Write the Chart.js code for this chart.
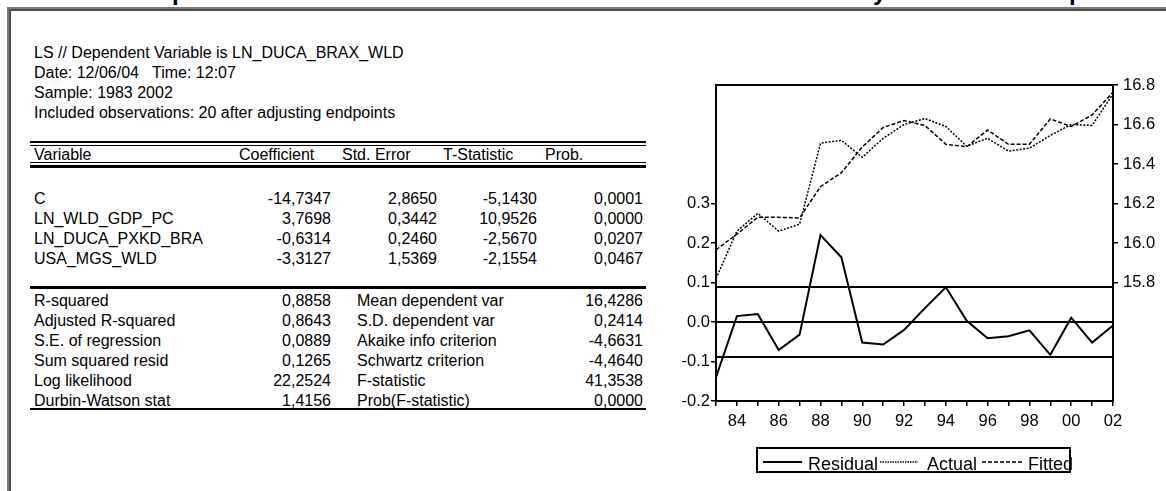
<!DOCTYPE html>
<html>
<head>
<meta charset="utf-8">
<script src="https://cdn.jsdelivr.net/npm/chart.js@4.4.0/dist/chart.umd.min.js"></script>
<style>
  html, body { margin: 0; padding: 0; background: #fff; }
  body { width: 1166px; height: 491px; position: relative; overflow: hidden;
         font-family: "Liberation Sans", Arial, sans-serif; color: #000; }
  #frame { position: absolute; left: 7px; top: 7px; right: -20px; bottom: -20px;
           border-top: 2px solid #7a7a7a; border-left: 2px solid #7a7a7a; }
  #frame::after { content: ''; position: absolute; left: 0; top: 0; right: 0; bottom: 0;
                  border-top: 2px solid #4e4e4e; border-left: 2px solid #4e4e4e; }
  #title { position: absolute; left: 0; top: 0; width: 1166px; height: 5px; overflow: hidden; }
  #title span { position: absolute; top: -20px; font: bold 24px/24px "Liberation Sans", Arial, sans-serif; }
  .t { position: absolute; font-size: 16px; line-height: 16px; white-space: pre; }
  .r { transform: translateX(-100%); }
  .rule { position: absolute; left: 30px; width: 616px; background: #000; }
  #wrap { position: absolute; left: 640px; top: 60px; width: 526px; height: 431px; }
</style>
</head>
<body>
<div id="frame"></div>
<div id="title"><span style="left:172px">p</span><span style="left:873px">y</span><span style="left:1069px">p</span></div>
<div id="table"></div>
<div id="wrap"><canvas id="residChart" width="526" height="431"></canvas></div>

<script>
// regression output
const headerLines = [
  'LS // Dependent Variable is LN_DUCA_BRAX_WLD',
  'Date: 12/06/04   Time: 12:07',
  'Sample: 1983 2002',
  'Included observations: 20 after adjusting endpoints'
];
const columnNames = ['Variable', 'Coefficient', 'Std. Error', 'T-Statistic', 'Prob.'];
const variables = ['C', 'LN_WLD_GDP_PC', 'LN_DUCA_PXKD_BRA', 'USA_MGS_WLD'];
const coefficients = ['-14,7347', '3,7698', '-0,6314', '-3,3127'];
const stdErrors = ['2,8650', '0,3442', '0,2460', '1,5369'];
const tStats = ['-5,1430', '10,9526', '-2,5670', '-2,1554'];
const probs = ['0,0001', '0,0000', '0,0207', '0,0467'];
const statNamesLeft = ['R-squared', 'Adjusted R-squared', 'S.E. of regression', 'Sum squared resid', 'Log likelihood', 'Durbin-Watson stat'];
const statValuesLeft = ['0,8858', '0,8643', '0,0889', '0,1265', '22,2524', '1,4156'];
const statNamesRight = ['Mean dependent var', 'S.D. dependent var', 'Akaike info criterion', 'Schwartz criterion', 'F-statistic', 'Prob(F-statistic)'];
const statValuesRight = ['16,4286', '0,2414', '-4,6631', '-4,4640', '41,3538', '0,0000'];

// residual / actual / fitted series
const years = [1983, 1984, 1985, 1986, 1987, 1988, 1989, 1990, 1991, 1992,
               1993, 1994, 1995, 1996, 1997, 1998, 1999, 2000, 2001, 2002];
const residual = [-0.140, 0.015, 0.020, -0.071, -0.032, 0.220, 0.164, -0.052, -0.057, -0.020,
                  0.035, 0.088, 0.003, -0.041, -0.036, -0.021, -0.083, 0.011, -0.052, -0.009];
const actual = [15.820, 16.060, 16.150, 16.060, 16.095, 16.505, 16.520, 16.434, 16.530, 16.600,
                16.630, 16.590, 16.490, 16.530, 16.465, 16.480, 16.545, 16.600, 16.595, 16.755];
const fitted = [15.965, 16.045, 16.130, 16.130, 16.127, 16.285, 16.356, 16.486, 16.585, 16.620,
                16.595, 16.500, 16.487, 16.572, 16.500, 16.500, 16.628, 16.590, 16.648, 16.764];
const seOfRegression = 0.0889;
const residTicks = [-0.2, -0.1, 0.0, 0.1, 0.2, 0.3];
const levelTicks = [15.8, 16.0, 16.2, 16.4, 16.6, 16.8];

// ---- table text ----
const table = document.getElementById('table');

function put(text, x, yMid, right) {
  const el = document.createElement('div');
  el.className = right ? 't r' : 't';
  el.textContent = text;
  el.style.left = x + 'px';
  el.style.top = (yMid - 8) + 'px';
  table.appendChild(el);
}

function rule(y, h) {
  const el = document.createElement('div');
  el.className = 'rule';
  el.style.top = y + 'px';
  el.style.height = h + 'px';
  table.appendChild(el);
}

headerLines.forEach((s, i) => put(s, 34, 53 + i * 20));

rule(140.5, 2.5);
rule(144.5, 1);
const headX = [34, 239, 342, 443, 545];
columnNames.forEach((s, i) => put(s, headX[i], 155));
rule(161.5, 1);
rule(165, 2.5);

variables.forEach((v, i) => {
  const y = 198.5 + i * 20;
  put(v, 34, y);
  put(coefficients[i], 331, y, true);
  put(stdErrors[i], 437, y, true);
  put(tStats[i], 537, y, true);
  put(probs[i], 643, y, true);
});

rule(286, 3);
statNamesLeft.forEach((s, i) => {
  const y = 300.5 + i * 20;
  put(s, 34, y);
  put(statValuesLeft[i], 331, y, true);
  put(statNamesRight[i], 357, y);
  put(statValuesRight[i], 643, y, true);
});
rule(407.5, 2);

// ---- chart ----
const font = { family: '"Liberation Sans", Arial, sans-serif', size: 16.5 };

// plot frame, the +/- S.E. band and the legend box
const framePlugin = {
  id: 'framePlugin',
  beforeDatasetsDraw(chart) {
    const { ctx, chartArea: a, scales } = chart;
    ctx.save();
    ctx.strokeStyle = '#000';
    ctx.lineWidth = 2;
    [-seOfRegression, 0, seOfRegression].forEach(v => {
      const y = Math.round(scales.yResid.getPixelForValue(v));
      ctx.beginPath();
      ctx.moveTo(a.left, y);
      ctx.lineTo(a.right, y);
      ctx.stroke();
    });
    ctx.beginPath();
    ctx.moveTo(a.left - 1, a.top);
    ctx.lineTo(a.right + 1, a.top);
    ctx.stroke();
    ctx.restore();
  },
  afterDraw(chart) {
    const ctx = chart.ctx;
    const items = [
      { label: 'Residual', dash: [], x0: 123, x1: 162, tx: 168 },
      { label: 'Actual', dash: [1.5, 1], x0: 240, x1: 278, tx: 287 },
      { label: 'Fitted', dash: [4, 2], x0: 342, x1: 382, tx: 388 }
    ];
    ctx.save();
    ctx.strokeStyle = '#000';
    ctx.lineWidth = 2;
    ctx.strokeRect(117, 388, 313, 24);
    ctx.font = '18px "Liberation Sans", Arial, sans-serif';
    ctx.fillStyle = '#000';
    ctx.textBaseline = 'alphabetic';
    items.forEach(it => {
      ctx.setLineDash(it.dash);
      ctx.lineWidth = it.dash.length ? 1.5 : 2;
      ctx.beginPath();
      ctx.moveTo(it.x0, 402);
      ctx.lineTo(it.x1, 402);
      ctx.stroke();
      ctx.setLineDash([]);
      ctx.fillText(it.label, it.tx, 410);
    });
    ctx.restore();
  }
};

new Chart(document.getElementById('residChart').getContext('2d'), {
  type: 'line',
  data: {
    labels: years,
    datasets: [{
      label: 'Residual',
      data: residual,
      yAxisID: 'yResid',
      borderColor: '#000',
      borderWidth: 2,
      pointRadius: 0,
      tension: 0
    }, {
      label: 'Actual',
      data: actual,
      yAxisID: 'yLevel',
      borderColor: '#000',
      borderWidth: 1.5,
      borderDash: [2, 1.5],
      pointRadius: 0,
      tension: 0
    }, {
      label: 'Fitted',
      data: fitted,
      yAxisID: 'yLevel',
      borderColor: '#000',
      borderWidth: 1.5,
      borderDash: [4, 2],
      pointRadius: 0,
      tension: 0
    }]
  },
  options: {
    responsive: false,
    animation: false,
    layout: { padding: { top: 25, bottom: 60, left: 0, right: 0 } },
    plugins: {
      legend: { display: false },
      tooltip: { enabled: false }
    },
    scales: {
      x: {
        type: 'category',
        offset: false,
        afterFit(scale) { scale.height = 30; },
        grid: { drawOnChartArea: false, drawTicks: true, tickLength: 5, color: '#000', lineWidth: 1.5 },
        border: { display: true, color: '#000', width: 2 },
        ticks: {
          color: '#000',
          font: font,
          padding: 6,
          autoSkip: false,
          maxRotation: 0,
          callback(value, index) {
            const y = years[index];
            return y % 2 === 0 ? String(y).slice(2) : '';
          }
        }
      },
      yResid: {
        type: 'linear',
        position: 'left',
        min: -0.2,
        max: 0.6,
        afterFit(scale) { scale.width = 76; },
        afterBuildTicks(scale) { scale.ticks = residTicks.map(v => ({ value: v })); },
        grid: { drawOnChartArea: false, drawTicks: true, tickLength: 5, color: '#000', lineWidth: 1.5 },
        border: { display: true, color: '#000', width: 2 },
        ticks: {
          color: '#000',
          font: font,
          padding: 1,
          callback(v) { return Number(v).toFixed(1); }
        }
      },
      yLevel: {
        type: 'linear',
        position: 'right',
        min: 15.2,
        max: 16.8,
        afterFit(scale) { scale.width = 53; },
        afterBuildTicks(scale) { scale.ticks = levelTicks.map(v => ({ value: v })); },
        grid: { drawOnChartArea: false, drawTicks: true, tickLength: 5, color: '#000', lineWidth: 1.5 },
        border: { display: true, color: '#000', width: 2 },
        ticks: {
          color: '#000',
          font: font,
          padding: 5,
          callback(v) { return Number(v).toFixed(1); }
        }
      }
    }
  },
  plugins: [framePlugin]
});
</script>
</body>
</html>
